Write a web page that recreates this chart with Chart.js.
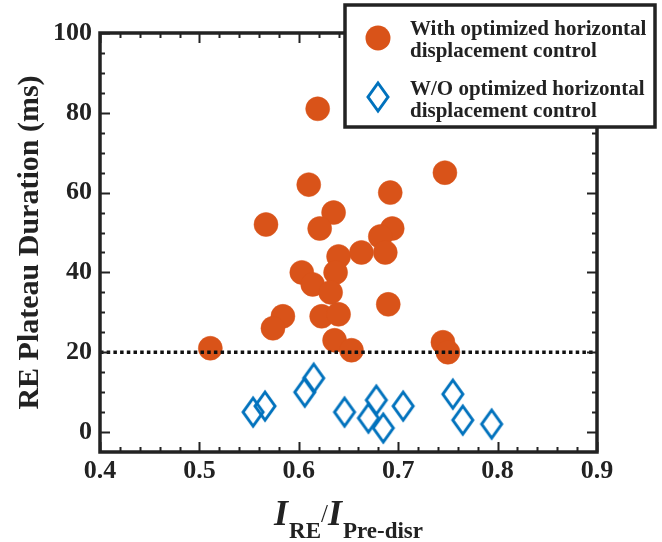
<!DOCTYPE html>
<html>
<head>
    <title>RE Plateau Duration</title>
    <script src="https://cdn.jsdelivr.net/npm/chart.js"></script>
    <style>
        html, body { margin: 0; padding: 0; background: #fff; }
        .wrap { width: 662px; height: 542px; }
    </style>
</head>
<body>
    <div class="wrap"><canvas id="plot" width="662" height="542"></canvas></div>
    <script>
        // With optimized horizontal displacement control
        const withX = [0.619, 0.747, 0.610, 0.692, 0.635, 0.567, 0.621, 0.694, 0.682, 0.640, 0.663, 0.687, 0.603,
                       0.637, 0.614, 0.632, 0.690, 0.584, 0.623, 0.640, 0.574, 0.636, 0.511, 0.653, 0.745, 0.750];
        const withY = [81, 65, 62, 60, 55, 52, 51, 51, 49, 44, 45, 45, 40,
                       40, 37, 35, 32, 29, 29, 29.5, 26, 23, 21, 20.5, 22.5, 20];
        // W/O optimized horizontal displacement control
        const woX = [0.554, 0.566, 0.606, 0.615, 0.646, 0.670, 0.678, 0.685, 0.705, 0.755, 0.765, 0.794];
        const woY = [5, 6.5, 10, 13.5, 5, 3.5, 8, 1, 6.5, 9.5, 3, 2];

        const seriesLabels = ['With optimized horizontal\ndisplacement control', 'W/O optimized horizontal\ndisplacement control'];
        const xTicks = [0.4, 0.5, 0.6, 0.7, 0.8, 0.9];
        const yTicks = [0, 20, 40, 60, 80, 100];
        const threshold = 20;

        const ORANGE = '#D95319';
        const BLUE = '#0072BD';
        const INK = '#222';
        const SERIF = '"Liberation Serif", "Times New Roman", serif';

        function toPoints(xs, ys) {
            return xs.map((x, i) => ({ x: x, y: ys[i] }));
        }

        // tall open diamond like the matlab marker
        function makeDiamond() {
            const c = document.createElement('canvas');
            c.width = 26; c.height = 34;
            const g = c.getContext('2d');
            g.strokeStyle = BLUE;
            g.lineWidth = 3;
            g.lineJoin = 'miter';
            g.beginPath();
            g.moveTo(13, 3); g.lineTo(23, 17); g.lineTo(13, 31); g.lineTo(3, 17);
            g.closePath();
            g.stroke();
            return c;
        }
        const diamond = makeDiamond();

        const framePlugin = {
            id: 'frame',
            afterDatasetsDraw(chart) {
                const ctx = chart.ctx;
                const a = chart.chartArea;
                const ys = chart.scales.y;

                // dotted threshold line, over the markers
                const yt = ys.getPixelForValue(threshold);
                ctx.save();
                ctx.strokeStyle = '#111';
                ctx.lineWidth = 3.5;
                ctx.setLineDash([3.5, 3.2]);
                ctx.beginPath();
                ctx.moveTo(a.left, yt);
                ctx.lineTo(a.right, yt);
                ctx.stroke();
                ctx.restore();
            },
            afterDraw(chart) {
                const ctx = chart.ctx;
                const a = chart.chartArea;
                const xs = chart.scales.x, ys = chart.scales.y;
                ctx.save();
                ctx.strokeStyle = INK;
                ctx.lineWidth = 2;
                ctx.beginPath();
                // inward ticks, all four sides
                for (let i = 0; i <= 25; i++) {
                    const v = xs.min + i * 0.02;
                    const px = Math.round(xs.getPixelForValue(v)) + 0.5;
                    const len = i % 5 === 0 ? 10 : 5;
                    ctx.moveTo(px, a.bottom); ctx.lineTo(px, a.bottom - len);
                    ctx.moveTo(px, a.top); ctx.lineTo(px, a.top + len);
                }
                for (let v = 0; v <= 100; v += 5) {
                    const py = Math.round(ys.getPixelForValue(v)) + 0.5;
                    const len = v % 20 === 0 ? 10 : 5;
                    ctx.moveTo(a.left, py); ctx.lineTo(a.left + len, py);
                    ctx.moveTo(a.right, py); ctx.lineTo(a.right - len, py);
                }
                ctx.stroke();
                ctx.lineWidth = 3.5;
                ctx.strokeRect(a.left, a.top, a.right - a.left, a.bottom - a.top);

                // x title  I_RE / I_Pre-disr
                const cx = (a.left + a.right) / 2;
                const base = 525;
                const big = 'italic bold 36px ' + SERIF;
                const sub = 'bold 23px ' + SERIF;
                const parts = [
                    { t: 'I', f: big, dy: 0, gap: 1 },
                    { t: 'RE', f: sub, dy: 13, gap: 0 },
                    { t: '/', f: '25px ' + SERIF, dy: -3, gap: 0 },
                    { t: 'I', f: big, dy: 0, gap: 1 },
                    { t: 'Pre-disr', f: sub, dy: 13, gap: 0 }
                ];
                let total = 0;
                parts.forEach(p => { ctx.font = p.f; p.w = ctx.measureText(p.t).width + p.gap; total += p.w; });
                let x = cx - total / 2;
                ctx.fillStyle = INK;
                ctx.textBaseline = 'alphabetic';
                ctx.textAlign = 'left';
                parts.forEach(p => { ctx.font = p.f; ctx.fillText(p.t, x, base + p.dy); x += p.w; });

                // legend box
                const box = { l: 345, t: 5, r: 655, b: 127 };
                ctx.fillStyle = '#fff';
                ctx.fillRect(box.l, box.t, box.r - box.l, box.b - box.t);
                ctx.lineWidth = 3.5;
                ctx.strokeStyle = INK;
                ctx.strokeRect(box.l, box.t, box.r - box.l, box.b - box.t);
                ctx.font = 'bold 21px ' + SERIF;
                chart.data.datasets.forEach((ds, i) => {
                    const my = 38 + i * 59;
                    if (i === 0) {
                        ctx.fillStyle = ORANGE;
                        ctx.beginPath();
                        ctx.arc(378, my, 12.5, 0, Math.PI * 2);
                        ctx.fill();
                    } else {
                        ctx.drawImage(diamond, 378 - 13, my - 17);
                    }
                    ctx.fillStyle = INK;
                    ds.label.split('\n').forEach((line, j) => {
                        ctx.fillText(line, 410, 35 + i * 60 + j * 22);
                    });
                });
                ctx.restore();
            }
        };

        new Chart(document.getElementById('plot').getContext('2d'), {
            type: 'scatter',
            data: {
                datasets: [{
                    label: seriesLabels[0],
                    data: toPoints(withX, withY),
                    pointStyle: 'circle',
                    pointRadius: 12,
                    pointBackgroundColor: ORANGE,
                    pointBorderColor: ORANGE,
                    pointBorderWidth: 0.5
                }, {
                    label: seriesLabels[1],
                    data: toPoints(woX, woY),
                    pointStyle: diamond,
                    pointRadius: 12
                }]
            },
            options: {
                responsive: false,
                animation: false,
                events: [],
                layout: { padding: { top: 33, right: 65, left: 0, bottom: 0 } },
                plugins: {
                    legend: { display: false },
                    tooltip: { enabled: false }
                },
                scales: {
                    x: {
                        type: 'linear',
                        min: 0.4,
                        max: 0.9,
                        afterBuildTicks: s => { s.ticks = xTicks.map(v => ({ value: v })); },
                        afterFit: s => { s.height = 90; },
                        grid: { display: false, drawTicks: false },
                        border: { display: false },
                        ticks: {
                            padding: 4,
                            color: INK,
                            font: { family: SERIF, size: 26, weight: 'bold' },
                            callback: v => v.toFixed(1)
                        }
                    },
                    y: {
                        type: 'linear',
                        min: -5,
                        max: 100,
                        afterBuildTicks: s => { s.ticks = yTicks.map(v => ({ value: v })); },
                        afterFit: s => { s.width = 100; },
                        grid: { display: false, drawTicks: false },
                        border: { display: false },
                        ticks: {
                            padding: 8,
                            color: INK,
                            font: { family: SERIF, size: 26, weight: 'bold' }
                        },
                        title: {
                            display: true,
                            text: 'RE Plateau Duration (ms)',
                            color: INK,
                            padding: { top: 15, bottom: 0 },
                            font: { family: SERIF, size: 30, weight: 'bold', lineHeight: 1 }
                        }
                    }
                }
            },
            plugins: [framePlugin]
        });
    </script>
</body>
</html>
